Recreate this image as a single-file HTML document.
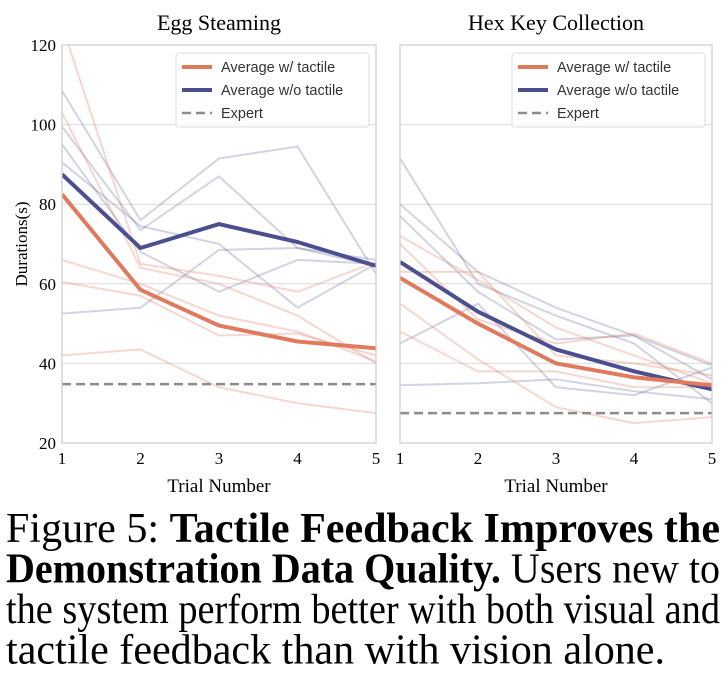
<!DOCTYPE html>
<html><head><meta charset="utf-8"><style>
body{margin:0;background:#fff;width:728px;height:694px;overflow:hidden;font-family:"Liberation Serif",serif}
</style></head><body>
<svg id="chart" width="728" height="500" style="position:absolute;left:0;top:0" font-family="Liberation Serif, serif"></svg>
<svg width="728" height="194" style="position:absolute;left:0;top:500px" font-family="Liberation Serif, serif" font-size="42">
<text x="6" y="42" textLength="714" lengthAdjust="spacingAndGlyphs">Figure 5: <tspan font-weight="bold">Tactile Feedback Improves the</tspan></text>
<text x="6" y="82.5" textLength="714" lengthAdjust="spacingAndGlyphs"><tspan font-weight="bold">Demonstration Data Quality.</tspan> Users new to</text>
<text x="6" y="123" textLength="714" lengthAdjust="spacingAndGlyphs">the system perform better with both visual and</text>
<text x="6" y="163.5" textLength="659" lengthAdjust="spacingAndGlyphs">tactile feedback than with vision alone.</text>
</svg>
<script>
const trials=[1,2,3,4,5];
const yTicks=[20,40,60,80,100,120];
const eggAvgTactile=[82.5,58.5,49.5,45.5,43.8];
const eggAvgNoTactile=[87.5,69,75,70.5,64.5];
const eggExpert=34.8;
const eggTactileRuns=[[125,65,62,58,65.5],[103,64,60,52,40],[66,60,52,48,40.5],[60.5,57,47,47.5,42],[42,43.5,34,30,27.5]];
const eggNoTactileRuns=[[108.5,76,91.5,94.5,62.5],[99.5,73.5,87,69,64.5],[90.5,74.5,70,54,65],[52.5,54,68.5,69,66],[95,68,58,66,65]];
const hexAvgTactile=[61.5,50,40,36.5,34.5];
const hexAvgNoTactile=[65.5,53,43.5,38,33.5];
const hexExpert=27.5;
const hexTactileRuns=[[72,61,49,42,35],[70,51,45,47.5,40],[63,63,42,40,37],[48,38,38,34,34],[55,41,29,25,26.5]];
const hexNoTactileRuns=[[91.5,60,52,45,30],[80,63,54,47,39.5],[77,58,46,47,36],[45,55,34,32,39],[34.5,35,36,33,31]];

const NS="http://www.w3.org/2000/svg";
const svg=document.getElementById('chart');
function mk(tag,attrs,parent){const e=document.createElementNS(NS,tag);for(const k in attrs)e.setAttribute(k,attrs[k]);(parent||svg).appendChild(e);return e;}
const Y0=443,Y1=45;
function yS(v){return Y0-(v-20)/(120-20)*(Y0-Y1);}
function panel(x0,x1,title,avgT,avgN,expert,runsT,runsN,showY,key){
  const xS=t=>x0+(t-1)/4*(x1-x0);
  const g=mk('g',{});
  
  
  const cp=mk('clipPath',{id:'cp'+key},g);mk('rect',{x:x0,y:Y1,width:x1-x0,height:Y0-Y1},cp);
  yTicks.forEach(v=>{
    const l=mk('line',{x1:x0,x2:x1,y1:yS(v),y2:yS(v),stroke:'#dcdcdc','stroke-width':1},g);
    
    
    if(showY){const t=mk('text',{x:x0-6,y:yS(v)+6,'text-anchor':'end','font-size':17},g);t.textContent=v;
      
      }
  });
  trials.forEach(tr=>{const t=mk('text',{x:xS(tr),y:Y0+21,'text-anchor':'middle','font-size':17},g);t.textContent=tr;
    
    });
  const pl=g.appendChild(document.createElementNS(NS,'g'));pl.setAttribute('clip-path','url(#cp'+key+')');
  const line=(vals,color,w,op,name,dash)=>{const p=mk('polyline',{points:vals.map((v,i)=>xS(trials[i])+','+yS(v)).join(' '),fill:'none',stroke:color,'stroke-width':w,'stroke-opacity':op,'stroke-linejoin':'round'},pl);if(dash)p.setAttribute('stroke-dasharray',dash);
    
    };
  runsN.forEach(r=>line(r,'#4c4f8f',2,0.25,'run-without-tactile'));
  runsT.forEach(r=>line(r,'#e07a5f',2,0.3,'run-with-tactile'));
  const e=mk('line',{x1:x0,x2:x1,y1:yS(expert),y2:yS(expert),stroke:'#8c8c8c','stroke-width':2.5,'stroke-dasharray':'9 5'},pl);
  
  
  line(avgN,'#4c4f8f',4,1,'average-without-tactile');
  line(avgT,'#e07a5f',4,1,'average-with-tactile');
  const fr=mk('rect',{x:x0,y:Y1,width:x1-x0,height:Y0-Y1,fill:'none',stroke:'#cccccc','stroke-width':1.2},g);
  
  
  const tt=mk('text',{x:(x0+x1)/2,y:30,'text-anchor':'middle','font-size':22},g);tt.textContent=title;
  
  
  const xl=mk('text',{x:(x0+x1)/2,y:492,'text-anchor':'middle','font-size':19},g);xl.textContent='Trial Number';
  
  
  const lx=x1-200,ly=53;
  const lg=mk('g',{},g);
  
  
  mk('rect',{x:lx,y:ly,width:193,height:74,rx:3,fill:'#fff','fill-opacity':0.85,stroke:'#dddddd'},lg);
  [['Average w/ tactile','#e07a5f',4,null],['Average w/o tactile','#4c4f8f',4,null],['Expert','#8c8c8c',2.5,'9 5']].forEach((it,i)=>{
    const yy=ly+14+i*23;
    const sw=mk('line',{x1:lx+6,x2:lx+36,y1:yy,y2:yy,stroke:it[1],'stroke-width':it[2]},lg);if(it[3])sw.setAttribute('stroke-dasharray',it[3]);
    
    
    const t=mk('text',{x:lx+45,y:yy+5,'font-size':14.5,'font-family':'Liberation Sans, sans-serif',fill:'#333'},lg);t.textContent=it[0];
    
    
  });
}
panel(62,376,'Egg Steaming',eggAvgTactile,eggAvgNoTactile,eggExpert,eggTactileRuns,eggNoTactileRuns,true,'egg');
panel(400,712,'Hex Key Collection',hexAvgTactile,hexAvgNoTactile,hexExpert,hexTactileRuns,hexNoTactileRuns,false,'hex');
const yl=mk('text',{x:0,y:0,'text-anchor':'middle','font-size':17,transform:'translate(27,244) rotate(-90)'});yl.textContent='Durations(s)';


</script>
</body></html>
